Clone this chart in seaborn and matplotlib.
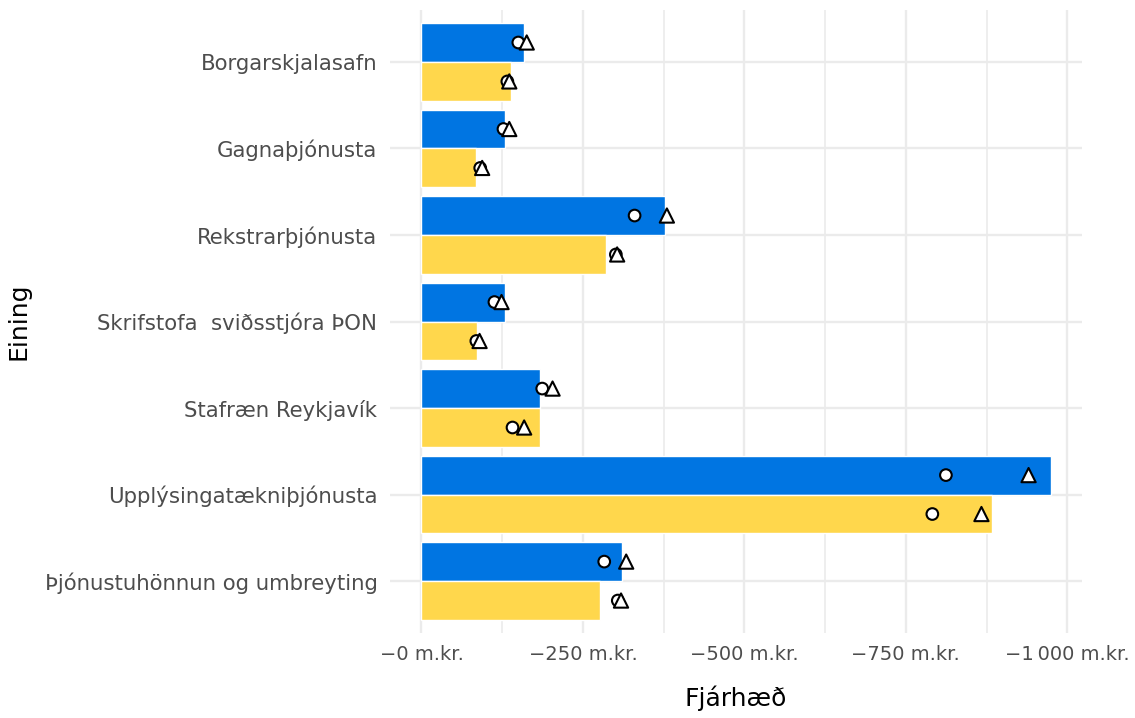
import matplotlib
matplotlib.use("Agg")
import matplotlib.pyplot as plt
import matplotlib.ticker as mticker
import numpy as np
import pandas as pd
import seaborn as sns

# Units (y categories)
units = [
    "Borgarskjalasafn",
    "Gagnaþjónusta",
    "Rekstrarþjónusta",
    "Skrifstofa  sviðsstjóra ÞON",
    "Stafræn Reykjavík",
    "Upplýsingatækniþjónusta",
    "Þjónustuhönnun og umbreyting",
]
series = ["Fyrra ár", "Núverandi ár"]

# Bar values (m.kr.)
bar_first = [-159, -130, -377, -130, -183, -974, -310]
bar_second = [-138, -85, -286, -86, -183, -884, -277]

# Marker values (m.kr.)
circle_first = [-150, -127, -330, -113, -187, -812, -283]
circle_second = [-133, -91, -301, -85, -141, -791, -304]
triangle_first = [-163, -136, -380, -124, -203, -940, -317]
triangle_second = [-136, -94, -303, -90, -159, -867, -309]

colors = ["#0075E2", "#FFD74C"]

bars = pd.DataFrame({
    "Eining": units * 2,
    "Röð": [series[0]] * len(units) + [series[1]] * len(units),
    "Fjárhæð": bar_first + bar_second,
})

sns.set_theme(style="white")
plt.rcParams["font.family"] = ["DejaVu Sans"]

fig = plt.figure(figsize=(11.35, 7.18), dpi=100)
ax = fig.add_axes([0.3436, 0.1184, 0.6097, 0.8676])

sns.barplot(data=bars, x="Fjárhæð", y="Eining", hue="Röð", order=units,
            hue_order=series, palette=colors, orient="h", width=0.9,
            errorbar=None, legend=False, saturation=1, ax=ax, zorder=2)

# Markers placed at the dodged bar centres
idx = np.arange(len(units))
offsets = [-0.225, 0.225]
marks = pd.DataFrame({
    "pos": np.concatenate([idx + offsets[0], idx + offsets[1],
                           idx + offsets[0], idx + offsets[1]]),
    "val": circle_first + circle_second + triangle_first + triangle_second,
    "kind": ["circle"] * (2 * len(units)) + ["triangle"] * (2 * len(units)),
})
sns.scatterplot(data=marks, x="val", y="pos", style="kind", size="kind",
                markers={"circle": "o", "triangle": "^"},
                sizes={"circle": 70, "triangle": 105},
                color="white", edgecolor="black", linewidth=1.5,
                legend=False, ax=ax, zorder=4)

ax.set_xlim(48.7, -1022.7)
ax.set_ylim(len(units) - 0.4, -0.6)
ax.xaxis.set_major_locator(mticker.FixedLocator([0, -250, -500, -750, -1000]))
ax.xaxis.set_minor_locator(mticker.FixedLocator([-125, -375, -625, -875]))


def fmt(v, pos):
    n = f"{abs(int(round(v))):,}".replace(",", "\u2009")
    return f"\u2212{n} m.kr."


ax.xaxis.set_major_formatter(mticker.FuncFormatter(fmt))
ax.set_yticks(idx)
ax.set_yticklabels(units)

ax.grid(True, which="major", axis="both", color="#EBEBEB", lw=1.7, zorder=0)
ax.grid(True, which="minor", axis="x", color="#EBEBEB", lw=1.2, zorder=0)
ax.set_axisbelow(True)
for s in ax.spines.values():
    s.set_visible(False)
ax.tick_params(axis="both", length=0, labelcolor="#4D4D4D")
ax.tick_params(axis="y", pad=9, labelsize=15.3)
ax.tick_params(axis="x", pad=9, labelsize=14)

ax.set_xlabel("Fjárhæð", fontsize=18, color="black", labelpad=15)
ax.set_ylabel("Eining", fontsize=18, color="black", labelpad=10)

fig.savefig("out.png", dpi=100)
